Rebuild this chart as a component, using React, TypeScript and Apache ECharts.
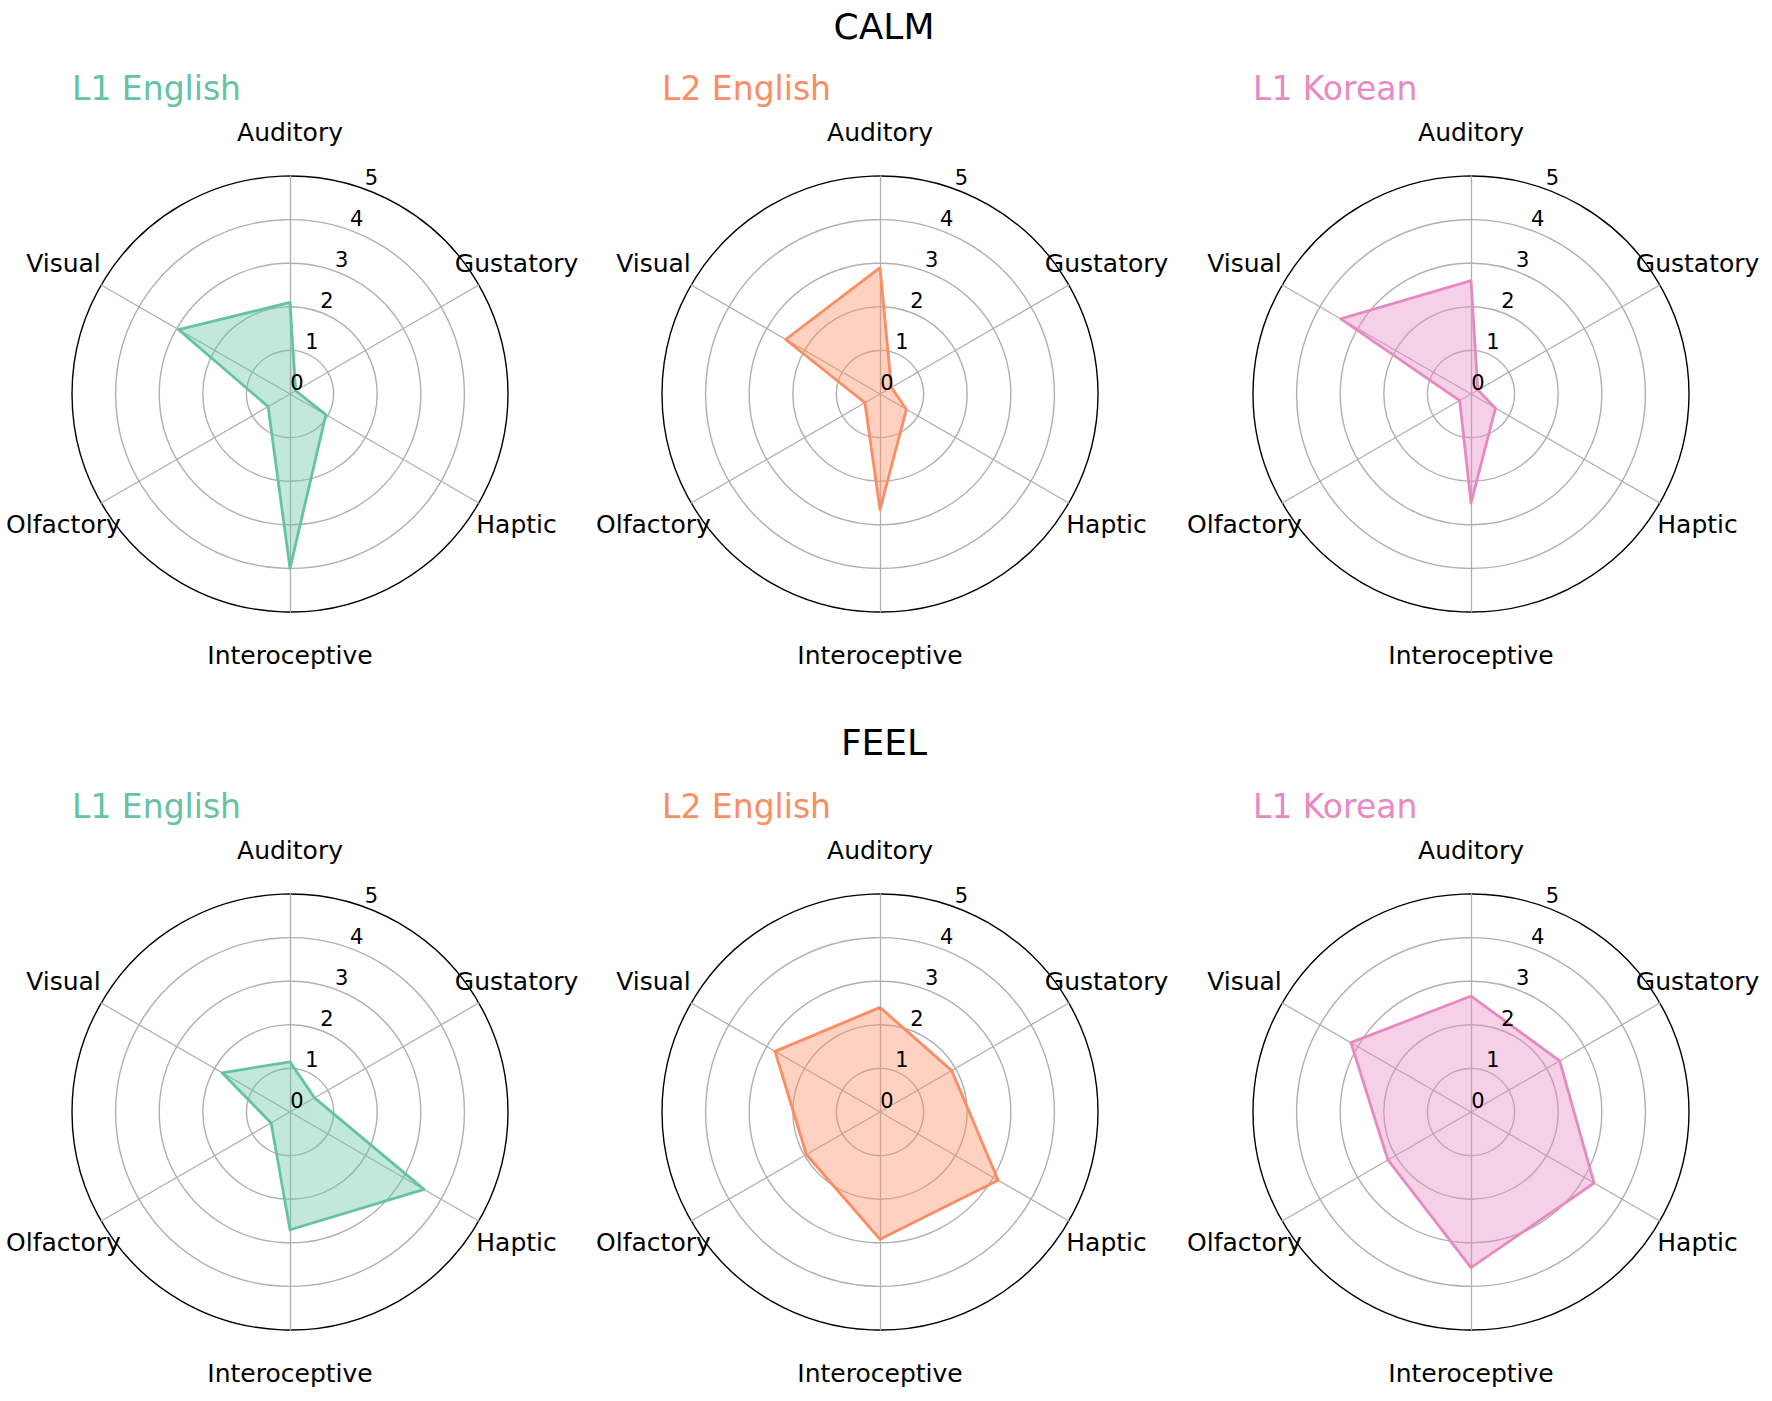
import React, { useEffect, useRef } from "react";
import * as echarts from "echarts";

// Categories in clockwise order starting at the top
const CATEGORIES = ["Auditory", "Gustatory", "Haptic", "Interoceptive", "Olfactory", "Visual"];
// ECharts radar places indicators counter-clockwise, so map the order
const RADAR_ORDER = [0, 5, 4, 3, 2, 1];
const GROUPS = ["L1 English", "L2 English", "L1 Korean"];
const GROUP_COLORS = ["#66c2a5", "#fc8d62", "#e78ac3"];
const CONDITIONS = ["CALM", "FEEL"];
const TICK_LABELS = ["0", "1", "2", "3", "4", "5"];

const CALM_L1_ENGLISH = [2.1, 0.15, 0.95, 4.0, 0.58, 2.95];
const CALM_L2_ENGLISH = [2.9, 0.3, 0.7, 2.65, 0.4, 2.5];
const CALM_L1_KOREAN = [2.6, 0.18, 0.65, 2.5, 0.3, 3.45];
const FEEL_L1_ENGLISH = [1.15, 0.65, 3.55, 2.7, 0.5, 1.8];
const FEEL_L2_ENGLISH = [2.4, 1.9, 3.13, 2.92, 1.95, 2.78];
const FEEL_L1_KOREAN = [2.66, 2.35, 3.26, 3.57, 2.2, 3.18];

const VALUES = [
  [CALM_L1_ENGLISH, CALM_L2_ENGLISH, CALM_L1_KOREAN],
  [FEEL_L1_ENGLISH, FEEL_L2_ENGLISH, FEEL_L1_KOREAN],
];

const FONT = "DejaVu Sans";
const W = 1772;
const H = 1401;
const CX = [290, 880, 1471];
const CY = [394, 1112];
const R = 218;
const TITLE_X = 884;
const TITLE_Y = [26, 742];
const SUB_Y = [88, 806];

function buildOption() {
  const radar: any[] = [];
  const polar: any[] = [];
  const angleAxis: any[] = [];
  const radiusAxis: any[] = [];
  const series: any[] = [];
  const graphic: any[] = [];
  const hidden = {
    axisLine: { show: false },
    axisTick: { show: false },
    axisLabel: { show: false },
    splitLine: { show: false },
    splitArea: { show: false },
  };

  CONDITIONS.forEach((cond, r) => {
    graphic.push({
      type: "text",
      x: TITLE_X,
      y: TITLE_Y[r],
      style: {
        text: cond,
        fontSize: 36,
        fontFamily: FONT,
        fill: "#000",
        align: "center",
        verticalAlign: "middle",
        textAlign: "center",
        textVerticalAlign: "middle",
      },
    });
    GROUPS.forEach((grp, c) => {
      const k = r * 3 + c;
      const color = GROUP_COLORS[c];
      const vals = VALUES[r][c];
      graphic.push({
        type: "text",
        x: CX[c] - R,
        y: SUB_Y[r],
        style: {
          text: grp,
          fontSize: 33,
          fontFamily: FONT,
          fill: color,
          align: "left",
          verticalAlign: "middle",
          textAlign: "left",
          textVerticalAlign: "middle",
        },
      });

      radar.push({
        center: [CX[c], CY[r]],
        radius: R,
        startAngle: 90,
        shape: "circle",
        splitNumber: 5,
        indicator: RADAR_ORDER.map((i) => ({ name: CATEGORIES[i], min: 0, max: 5 })),
        axisName: { show: false },
        axisLine: { show: true, lineStyle: { color: "#b0b0b0", width: 1.3 } },
        axisTick: { show: false },
        axisLabel: { show: false },
        splitLine: {
          show: true,
          lineStyle: {
            color: ["#b0b0b0", "#b0b0b0", "#b0b0b0", "#b0b0b0", "#b0b0b0", "#000000"],
            width: 1.4,
          },
        },
        splitArea: { show: false },
      });

      series.push({
        type: "radar",
        radarIndex: k,
        symbol: "none",
        z: 2,
        silent: true,
        lineStyle: { color, width: 2.8 },
        itemStyle: { color },
        areaStyle: { color, opacity: 0.4 },
        data: [{ name: grp, value: RADAR_ORDER.map((i) => vals[i]) }],
      });

      // polar for the radial tick labels (placed along a slanted ray like matplotlib)
      const pTick = polar.length;
      polar.push({ center: [CX[c] + 7, CY[r] - 11.5], radius: R });
      angleAxis.push({
        polarIndex: pTick,
        type: "value",
        min: 0,
        max: 360,
        startAngle: 70,
        ...hidden,
      });
      radiusAxis.push({
        polarIndex: pTick,
        type: "value",
        min: 0,
        max: 5,
        interval: 1,
        z: 10,
        axisLine: { show: false },
        axisTick: { show: false },
        splitLine: { show: false },
        splitArea: { show: false },
        axisLabel: {
          show: true,
          margin: 0,
          align: "center",
          verticalAlign: "middle",
          fontSize: 21,
          fontFamily: FONT,
          color: "#000",
          showMinLabel: true,
          showMaxLabel: true,
          formatter: (v: number) => "{t|" + (TICK_LABELS[Math.round(v)] ?? String(v)) + "}",
          rich: {
            t: { fontSize: 21, fontFamily: FONT, color: "#000" },
          },
        },
      });

      // polar for the category names, centred around the circle
      const pName = polar.length;
      polar.push({ center: [CX[c], CY[r]], radius: R * 1.2 });
      angleAxis.push({
        polarIndex: pName,
        type: "category",
        data: CATEGORIES,
        boundaryGap: false,
        startAngle: 90,
        clockwise: true,
        ...hidden,
      });
      radiusAxis.push({
        polarIndex: pName,
        type: "value",
        min: 0,
        max: 1,
        ...hidden,
      });
      series.push({
        type: "scatter",
        coordinateSystem: "polar",
        polarIndex: pName,
        symbolSize: 0,
        silent: true,
        z: 5,
        itemStyle: { color: "#000000", opacity: 1 },
        label: {
          show: true,
          position: "inside",
          formatter: "{b}",
          fontSize: 25,
          fontFamily: FONT,
          color: "#000000",
          opacity: 1,
          textBorderWidth: 0,
        },
        data: CATEGORIES.map((name) => ({ name, value: [1, name] })),
      });
    });
  });

  return {
    animation: false,
    backgroundColor: "#ffffff",
    textStyle: { fontFamily: FONT },
    radar,
    polar,
    angleAxis,
    radiusAxis,
    series,
    graphic,
  };
}

export default function App() {
  const ref = useRef<HTMLDivElement | null>(null);
  useEffect(() => {
    document.body.style.margin = "0";
    if (!ref.current) return;
    const chart = echarts.init(ref.current, undefined, { renderer: "svg", width: W, height: H });
    chart.setOption(buildOption());
    return () => {
      chart.dispose();
    };
  }, []);
  return <div ref={ref} style={{ width: W, height: H, background: "#fff" }} />;
}
